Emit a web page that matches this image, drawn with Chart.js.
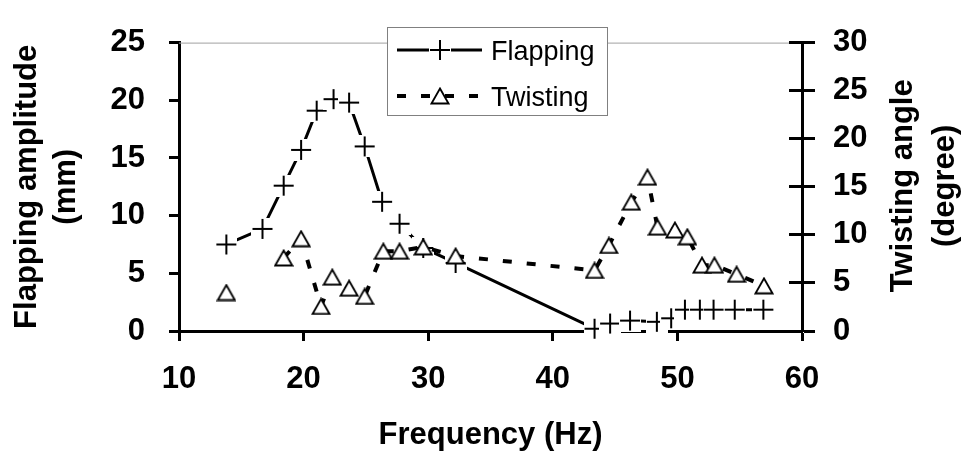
<!DOCTYPE html>
<html>
<head>
<meta charset="utf-8">
<script src="https://cdn.jsdelivr.net/npm/chart.js@4.4.0/dist/chart.umd.min.js"></script>
<style>
  html, body { margin: 0; padding: 0; background: #fff; }
  #chart { display: block; }
</style>
</head>
<body>
<canvas id="chart" width="967" height="464"></canvas>
<script>
// values
const flapFreq = [13.8, 16.7, 18.4, 19.8, 21.05, 22.4, 23.65, 24.9, 26.3, 27.7, 29.6, 32.2,
                  43.35, 44.6, 46.2, 48.35, 49.5, 50.6, 51.8, 52.9, 54.6, 56.9];
const flapAmp = [7.5, 8.85, 12.6, 15.7, 19.1, 20.1, 19.8, 16.0, 11.2, 9.3, 7.2, 5.9,
                 0.2, 0.65, 0.9, 0.8, 1.1, 1.85, 1.85, 1.85, 1.85, 1.85];
// no twisting reading at 16.7 Hz, so the first triangle stands alone
const twistFreq = [13.8, 16.7, 18.4, 19.8, 21.4, 22.3, 23.65, 24.9, 26.4, 27.7, 29.6, 32.2,
                   43.35, 44.5, 46.3, 47.6, 48.4, 49.8, 50.8, 51.97, 52.97, 54.75, 56.95];
const twistAngle = [4.0, null, 7.6, 9.6, 2.55, 5.6, 4.45, 3.6, 8.3, 8.3, 8.75, 7.8,
                    6.3, 8.9, 13.4, 16.0, 10.8, 10.5, 9.8, 6.85, 6.85, 5.9, 4.7];
const seriesNames = ['Flapping', 'Twisting'];
const xRange = [10, 60];
const flapRange = [0, 25];
const twistRange = [0, 30];
const tickStep = [10, 5, 5];

const FONT = "'Liberation Sans', Arial, sans-serif";
const tickFont = { family: FONT, size: 31, weight: 'bold' };

// "+" marker sits on a small white square, like the original export
function makeCross() {
  const c = document.createElement('canvas');
  c.width = 22; c.height = 22;
  const g = c.getContext('2d');
  g.fillStyle = '#fff';
  g.fillRect(0, 0, 22, 22);
  g.fillStyle = '#000';
  g.fillRect(1, 10, 20, 2);
  g.fillRect(10, 1, 2, 20);
  return c;
}

function makeTriangle() {
  const c = document.createElement('canvas');
  c.width = 20; c.height = 18;
  const g = c.getContext('2d');
  g.beginPath();
  g.moveTo(10, 1.5);
  g.lineTo(18.5, 16.5);
  g.lineTo(1.5, 16.5);
  g.closePath();
  g.fillStyle = '#fff';
  g.fill();
  g.lineWidth = 1.8;
  g.strokeStyle = '#000';
  g.stroke();
  return c;
}

const crossImg = makeCross();
const triImg = makeTriangle();

const align = (px, w) => Math.round(px - w / 2) + w / 2;

// grey top edge, inner half of the right-axis ticks, right title, legend
const frameExtras = {
  id: 'frameExtras',
  beforeDatasetsDraw(chart) {
    const { ctx, chartArea } = chart;
    const y2 = chart.scales.y2;
    ctx.save();
    ctx.strokeStyle = '#a0a0a0';
    ctx.lineWidth = 1;
    ctx.beginPath();
    ctx.moveTo(chartArea.left, chartArea.top + 0.5);
    ctx.lineTo(chartArea.right, chartArea.top + 0.5);
    ctx.stroke();

    ctx.strokeStyle = '#000';
    ctx.lineWidth = 3;
    y2.ticks.forEach((t) => {
      const y = align(y2.getPixelForValue(t.value), 3);
      ctx.beginPath();
      ctx.moveTo(chartArea.right - 13, y);
      ctx.lineTo(chartArea.right, y);
      ctx.stroke();
    });
    ctx.restore();
  },
  afterDatasetsDraw(chart) {
    const { ctx, chartArea } = chart;
    // right axis title, reads bottom to top
    ctx.save();
    ctx.fillStyle = '#000';
    ctx.font = 'bold 31px ' + FONT;
    ctx.textAlign = 'center';
    ctx.textBaseline = 'middle';
    ctx.translate(903, (chartArea.top + chartArea.bottom) / 2 - 1);
    ctx.rotate(-Math.PI / 2);
    ctx.fillText('Twisting angle', 0, 0);
    ctx.fillText('(degree)', 0, 42);
    ctx.restore();

    // legend box
    ctx.save();
    ctx.fillStyle = '#fff';
    ctx.fillRect(387, 27, 220, 88);
    ctx.strokeStyle = '#808080';
    ctx.lineWidth = 1;
    ctx.strokeRect(387.5, 27.5, 220, 88);
    const rows = [50, 96];
    chart.data.datasets.forEach((ds) => {
      const i = seriesNames.indexOf(ds.label);
      const y = rows[i];
      ctx.strokeStyle = '#000';
      ctx.lineWidth = ds.borderWidth;
      ctx.setLineDash(ds.borderDash || []);
      ctx.beginPath();
      ctx.moveTo(397, y);
      ctx.lineTo(482, y);
      ctx.stroke();
      ctx.setLineDash([]);
      const img = ds.pointStyle;
      ctx.drawImage(img, 440 - img.width / 2, y - img.height / 2);
      ctx.fillStyle = '#000';
      ctx.font = '27px ' + FONT;
      ctx.textAlign = 'left';
      ctx.textBaseline = 'alphabetic';
      ctx.fillText(ds.label, 491, y + 10);
    });
    ctx.restore();
  }
};

const axisGrid = (len) => ({
  drawOnChartArea: false,
  drawTicks: true,
  tickLength: len,
  tickWidth: 3,
  tickColor: '#000'
});

new Chart(document.getElementById('chart'), {
  type: 'line',
  data: {
    datasets: [
      {
        label: seriesNames[1],
        data: twistFreq.map((f, i) => ({ x: f, y: twistAngle[i] })),
        yAxisID: 'y2',
        borderColor: '#000',
        borderWidth: 4,
        borderDash: [9, 15],
        borderCapStyle: 'butt',
        pointStyle: triImg,
        pointRadius: 10,
        tension: 0,
        spanGaps: false,
        fill: false,
        clip: false,
        order: 0
      },
      {
        label: seriesNames[0],
        data: flapFreq.map((f, i) => ({ x: f, y: flapAmp[i] })),
        yAxisID: 'y',
        borderColor: '#000',
        borderWidth: 3,
        pointStyle: crossImg,
        pointRadius: 11,
        tension: 0,
        fill: false,
        clip: false,
        order: 1
      }
    ]
  },
  options: {
    responsive: false,
    animation: false,
    events: [],
    devicePixelRatio: 1,
    layout: { padding: { top: 25, left: 0, right: 0, bottom: 0 } },
    plugins: {
      legend: { display: false },
      tooltip: { enabled: false }
    },
    scales: {
      x: {
        type: 'linear',
        min: xRange[0],
        max: xRange[1],
        ticks: { stepSize: tickStep[0], font: tickFont, color: '#000', padding: 20, maxRotation: 0 },
        grid: axisGrid(10),
        border: { color: '#000', width: 3 },
        title: {
          display: true,
          text: 'Frequency (Hz)',
          color: '#000',
          font: { family: FONT, size: 31, weight: 'bold', lineHeight: 1.25 },
          padding: { top: 0, bottom: 9 }
        },
        afterFit: (s) => { s.height = 133; }
      },
      y: {
        position: 'left',
        min: flapRange[0],
        max: flapRange[1],
        ticks: { stepSize: tickStep[1], font: tickFont, color: '#000', padding: 24 },
        grid: axisGrid(10),
        border: { color: '#000', width: 3 },
        title: {
          display: true,
          text: ['Flapping amplitude', '(mm)'],
          color: '#000',
          font: { family: FONT, size: 31, weight: 'bold', lineHeight: 1.25 },
          padding: { top: 8, bottom: 0 }
        },
        afterFit: (s) => { s.width = 179; }
      },
      y2: {
        position: 'right',
        min: twistRange[0],
        max: twistRange[1],
        ticks: { stepSize: tickStep[2], font: tickFont, color: '#000', padding: 18 },
        grid: axisGrid(13),
        border: { color: '#000', width: 3 },
        title: { display: false },
        afterFit: (s) => { s.width = 165; }
      }
    }
  },
  plugins: [frameExtras]
});
</script>
</body>
</html>
